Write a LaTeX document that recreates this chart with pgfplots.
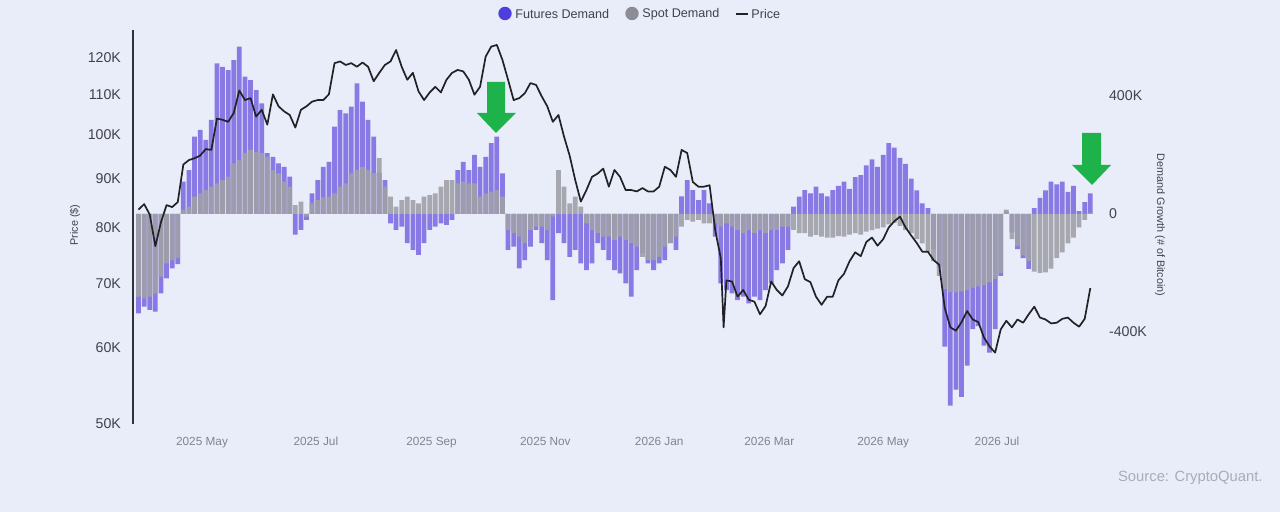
\documentclass[border=0pt]{standalone}
\usepackage{fontspec}
\setmainfont{Liberation Sans}
\usepackage{pgfplots}
\usepackage{pgfplotstable}
\pgfplotsset{compat=1.18}
\definecolor{bgcol}{RGB}{232,237,249}
\definecolor{futcol}{RGB}{124,106,226}
\definecolor{spotcol}{RGB}{160,160,168}
\definecolor{futdot}{RGB}{78,62,222}
\definecolor{spotdot}{RGB}{140,140,150}
\definecolor{pricecol}{RGB}{34,34,38}
\definecolor{ticktxt}{RGB}{66,66,76}
\definecolor{xticktxt}{RGB}{128,132,142}
\definecolor{axcol}{RGB}{50,50,56}
\definecolor{arrowgreen}{RGB}{30,178,74}
\definecolor{srccol}{RGB}{168,172,184}

% days since 2025-05-01, futures and spot demand growth (thousand BTC)
\pgfplotstableread{
d F S
-34 -337 -280
-31 -314 -286
-28 -325 -280
-25 -331 -270
-22 -269 -212
-19 -218 -167
-16 -184 -156
-13 -170 -150
-10 110 15
-7 149 25
-4 262 59
-1 285 70
2 251 81
5 319 93
8 511 104
11 499 115
14 488 127
17 522 172
20 567 183
23 466 206
26 454 217
29 420 211
32 375 206
35 206 194
38 194 149
41 172 138
44 160 110
47 127 93
50 -70 30
53 -54 42
56 -20 -9
59 70 36
62 115 47
65 160 56
68 177 59
71 296 70
74 352 93
77 341 104
80 364 138
83 443 149
86 381 160
89 319 149
92 262 138
95 140 189
98 115 93
101 -32 59
104 -54 25
107 -43 47
110 -99 59
113 -122 47
116 -139 36
119 -99 59
122 -54 64
125 -43 70
128 -32 93
131 -37 115
134 -20 115
137 149 104
140 177 110
143 149 104
146 200 104
149 160 59
152 194 70
155 240 76
158 262 81
161 138 59
164 -122 -54
167 -111 -65
170 -184 -77
173 -156 -99
176 -111 -54
179 -54 -43
182 -99 -43
185 -156 -54
188 -292 -9
191 -65 149
194 -99 93
197 -145 36
200 -122 59
203 -167 25
206 -190 -32
209 -167 -54
212 -99 -65
215 -122 -77
218 -156 -77
221 -190 -88
224 -201 -77
227 -235 -88
230 -280 -99
233 -190 -111
236 -133 -145
239 -167 -156
242 -190 -156
245 -167 -145
248 -156 -111
251 -99 -99
254 -122 -77
257 60 -43
260 115 -20
263 81 -26
266 47 -20
269 81 -32
272 36 -32
275 -77 -32
278 -235 -43
281 -258 -32
284 -269 -43
287 -292 -54
290 -280 -65
293 -303 -54
296 -280 -65
299 -292 -54
302 -258 -65
305 -235 -54
308 -190 -54
311 -167 -43
314 -122 -43
317 25 -54
320 59 -65
323 81 -65
326 70 -77
329 93 -71
332 70 -77
335 60 -80
338 81 -80
341 95 -75
344 110 -77
347 85 -70
350 125 -65
353 132 -70
356 165 -60
359 185 -55
362 160 -50
365 200 -45
368 240 -35
371 225 -30
374 190 -40
377 170 -55
380 120 -65
383 80 -85
386 36 -100
389 20 -130
392 -120 -160
395 -180 -210
398 -450 -255
401 -650 -265
404 -595 -265
407 -620 -262
410 -514 -258
413 -390 -250
416 -380 -245
419 -446 -240
422 -470 -232
425 -390 -220
428 -210 -200
431 10 15
434 -62 -85
437 -119 -110
440 -150 -140
443 -186 -160
446 20 -195
449 55 -200
452 80 -198
455 110 -185
458 100 -150
461 110 -130
464 75 -100
467 95 -80
470 10 -45
473 40 -20
476 70 5
}\demand

% days since 2025-05-01, BTC price (thousand USD)
\pgfplotstableread{
d P
-34 83.5
-31 84.6
-28 82.5
-25 76.5
-22 81.0
-19 84.4
-16 84.0
-13 85.0
-10 93.0
-7 94.0
-4 94.4
-1 95.0
2 96.5
5 96.3
8 103.8
11 103.5
14 103.0
17 105.2
20 111.0
23 108.5
26 109.0
29 104.3
32 106.0
35 102.3
38 110.0
41 106.9
44 105.6
47 104.7
50 101.6
53 106.0
56 106.9
59 108.1
62 108.5
65 108.5
68 110.0
71 118.5
74 119.0
77 118.0
80 118.5
83 117.5
86 118.7
89 117.5
92 113.5
95 115.8
98 118.0
101 119.0
104 122.3
107 117.5
110 113.9
113 115.8
116 110.8
119 108.5
122 110.5
125 112.0
128 110.5
131 113.9
134 115.8
137 116.6
140 116.2
143 113.9
146 109.9
149 112.0
152 120.4
155 123.3
158 123.8
161 119.4
164 113.9
167 108.5
170 109.0
173 110.3
176 113.0
179 112.5
182 109.5
185 106.9
188 103.0
191 104.7
194 99.4
197 95.0
200 89.6
203 85.1
206 87.5
209 90.3
212 91.0
215 92.1
218 88.2
221 91.8
224 90.3
227 87.5
230 87.5
233 87.2
236 87.9
239 87.2
242 87.2
245 88.2
248 92.5
251 91.8
254 90.3
257 96.3
260 95.6
263 89.2
266 88.2
269 88.2
272 88.5
275 79.5
278 74.3
279.5 63.0
281 70.5
284 70.3
287 67.8
290 68.9
293 67.3
296 67.0
299 65.0
302 66.3
305 70.3
308 68.9
311 68.0
314 69.5
317 72.6
320 73.8
323 70.7
326 70.2
329 67.8
332 66.5
335 67.8
338 67.8
341 70.5
344 71.6
347 73.8
350 75.4
353 74.7
356 77.3
359 78.1
362 76.6
365 77.8
368 80.0
371 81.2
374 82.1
377 80.0
380 78.5
383 77.1
386 75.5
389 75.5
392 74.0
395 73.2
398 66.0
401 63.0
404 62.5
407 63.8
410 65.5
413 64.2
416 63.8
419 61.5
422 60.2
425 59.3
428 62.7
431 64.0
434 63.0
437 64.2
440 63.7
443 65.0
446 66.2
449 64.5
452 64.2
455 63.6
458 63.7
461 64.3
464 64.5
467 63.7
470 63.1
473 64.3
476 69.2
}\price

\begin{document}
\begin{tikzpicture}
\begin{scope}[x=0.5pt,y=-0.5pt]
\fill[bgcol] (0,0) rectangle (1280,512);
\end{scope}

% demand axis (right)
\begin{axis}[
  at={(66.5pt,-212pt)}, anchor=south west,
  scale only axis, width=483.5pt, height=197pt,
  xmin=-36.98, xmax=481.2,
  ymin=-711.9, ymax=623.8,
  axis y line*=right, axis x line*=bottom,
  axis line style={draw=none},
  major tick length=0pt,
  xtick={0,61,123,184,245,304,365,426},
  xticklabels={2025 May,2025 Jul,2025 Sep,2025 Nov,2026 Jan,2026 Mar,2026 May,2026 Jul},
  xticklabel style={font=\fontsize{5.9}{7}\selectfont, text=xticktxt, yshift=-3pt},
  ytick={-400,0,400},
  yticklabels={-400K,0,400K},
  yticklabel style={font=\fontsize{7.1}{8}\selectfont, text=ticktxt, anchor=west, xshift=1pt},
  ylabel={Demand Growth (\# of Bitcoin)},
  ylabel style={at={(axis description cs:1.062,0.505)}, anchor=center, rotate=180,
    font=\fontsize{5.4}{6}\selectfont, text=ticktxt},
]
\addplot[ybar, bar shift=0pt, bar width=2.55, fill=futcol, draw=none, fill opacity=0.88]
  table[x=d, y=F] {\demand};
\addplot[ybar, bar shift=0pt, bar width=2.55, fill=spotcol, draw=none, fill opacity=0.9]
  table[x=d, y=S] {\demand};
\end{axis}

% price axis (left, log)
\begin{axis}[
  at={(66.5pt,-212pt)}, anchor=south west,
  scale only axis, width=483.5pt, height=197pt,
  xmin=-36.98, xmax=481.2,
  ymode=log, ymin=50, ymax=128.3,
  axis y line*=left, axis x line=none,
  y axis line style={color=axcol, line width=0.8pt},
  major tick length=0pt, yminorticks=false,
  ytick={50,60,70,80,90,100,110,120},
  yticklabels={50K,60K,70K,80K,90K,100K,110K,120K},
  yticklabel style={font=\fontsize{7.1}{8}\selectfont, text=ticktxt, anchor=east, xshift=-2.5pt},
  ylabel={Price (\$)},
  ylabel style={at={(axis description cs:-0.06,0.505)}, anchor=center,
    font=\fontsize{5.4}{6}\selectfont, text=ticktxt},
]
\addplot[pricecol, line width=0.85pt, line join=round] table[x=d, y=P] {\price};
\end{axis}

\begin{scope}[x=0.5pt,y=-0.5pt]
% green arrows
\fill[arrowgreen] (487,82) -- (505,82) -- (505,113) -- (516,113) -- (496,133) -- (477,113) -- (487,113) -- cycle;
\fill[arrowgreen] (1082,133) -- (1101,133) -- (1101,165) -- (1111,165) -- (1092,185) -- (1072,165) -- (1082,165) -- cycle;
% legend
\fill[futdot] (505,13.5) circle (6.7);
\node[anchor=west, inner sep=0pt, font=\fontsize{6.3}{7}\selectfont, text=ticktxt] at (515,14) {Futures Demand};
\fill[spotdot] (632,13.5) circle (6.7);
\node[anchor=west, inner sep=0pt, font=\fontsize{6.3}{7}\selectfont, text=ticktxt] at (642,14) {Spot Demand};
\draw[pricecol, line width=0.6pt] (736,14) -- (748,14);
\node[anchor=west, inner sep=0pt, font=\fontsize{6.3}{7}\selectfont, text=ticktxt] at (751,14) {Price};
% source
\node[anchor=east, inner sep=0pt, font=\fontsize{7.4}{8}\selectfont, text=srccol] at (1263,478) {Source: CryptoQuant.};
\end{scope}

\pgfresetboundingbox
\path (0pt,0pt) rectangle (640pt,-256pt);
\end{tikzpicture}
\end{document}
